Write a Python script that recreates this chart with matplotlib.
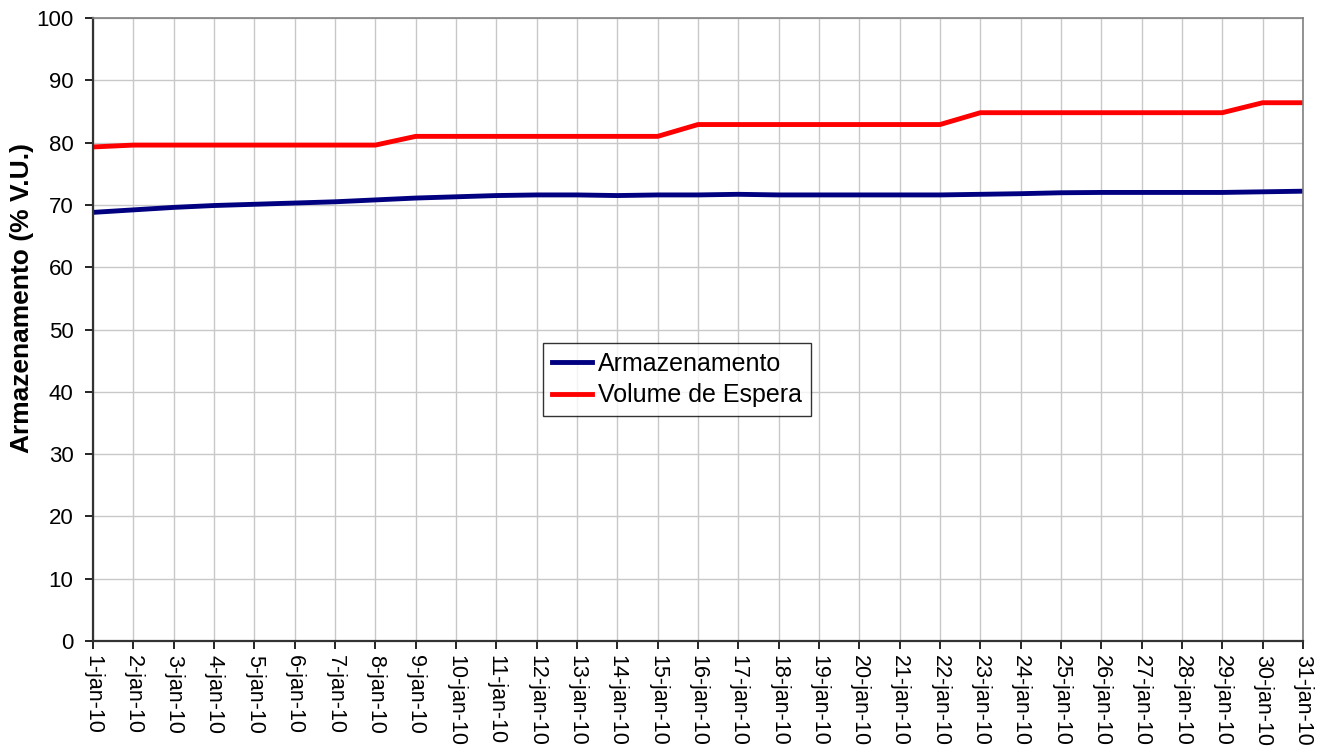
import matplotlib
matplotlib.use("Agg")
import matplotlib.pyplot as plt

plt.rcParams['font.family'] = ['Liberation Sans', 'DejaVu Sans']

days = list(range(1, 32))
tick_labels = [f"{d}-jan-10" for d in days]

armazenamento = [68.8, 69.2, 69.6, 69.9, 70.1, 70.3, 70.5, 70.8, 71.1, 71.3,
                 71.5, 71.6, 71.6, 71.5, 71.6, 71.6, 71.7, 71.6, 71.6, 71.6,
                 71.6, 71.6, 71.7, 71.8, 71.95, 72.0, 72.0, 72.0, 72.0, 72.1,
                 72.2]
volume_espera = [79.3, 79.6, 79.6, 79.6, 79.6, 79.6, 79.6, 79.6, 81.0, 81.0,
                 81.0, 81.0, 81.0, 81.0, 81.0, 82.9, 82.9, 82.9, 82.9, 82.9,
                 82.9, 82.9, 84.8, 84.8, 84.8, 84.8, 84.8, 84.8, 84.8, 86.4,
                 86.4]

fig = plt.figure(figsize=(13.25, 7.52), dpi=100)
ax = fig.add_axes([93/1325, 1-641/752, 1210/1325, 623/752])

ax.plot(days, armazenamento, color='#000080', lw=3.5, label='Armazenamento',
        solid_joinstyle='round')
ax.plot(days, volume_espera, color='#FF0000', lw=3.5, label='Volume de Espera',
        solid_joinstyle='round')

ax.set_xlim(1, 31)
ax.set_ylim(0, 100)
ax.set_xticks(days)
ax.set_xticklabels(tick_labels, rotation=270, fontsize=15.5, va='top', ha='center')
ax.set_yticks(range(0, 101, 10))
ax.tick_params(axis='y', labelsize=16, length=6, width=1.2, direction='out', pad=8)
ax.tick_params(axis='x', length=6, width=1.2, direction='out', pad=4)
ax.grid(True, color='#c8c8c8', lw=1.0)
ax.set_axisbelow(True)

for s in ['top', 'right']:
    ax.spines[s].set_color('#808080')
    ax.spines[s].set_linewidth(1.2)
for s in ['left', 'bottom']:
    ax.spines[s].set_color('#333333')
    ax.spines[s].set_linewidth(1.6)

ax.set_ylabel('Armazenamento (% V.U.)', fontsize=19, fontweight='bold', labelpad=1)
ax.yaxis.set_label_coords(-0.049, (641-298)/623)

leg = ax.legend(loc='upper left', bbox_to_anchor=((543-93)/1210, (641-343)/623),
                borderaxespad=0, fontsize=18, frameon=True, fancybox=False,
                handlelength=1.6, handletextpad=0.25, borderpad=0.35,
                labelspacing=0.3)
leg.get_frame().set_edgecolor('black')
leg.get_frame().set_linewidth(1.0)

fig.savefig('out.png', dpi=100)
